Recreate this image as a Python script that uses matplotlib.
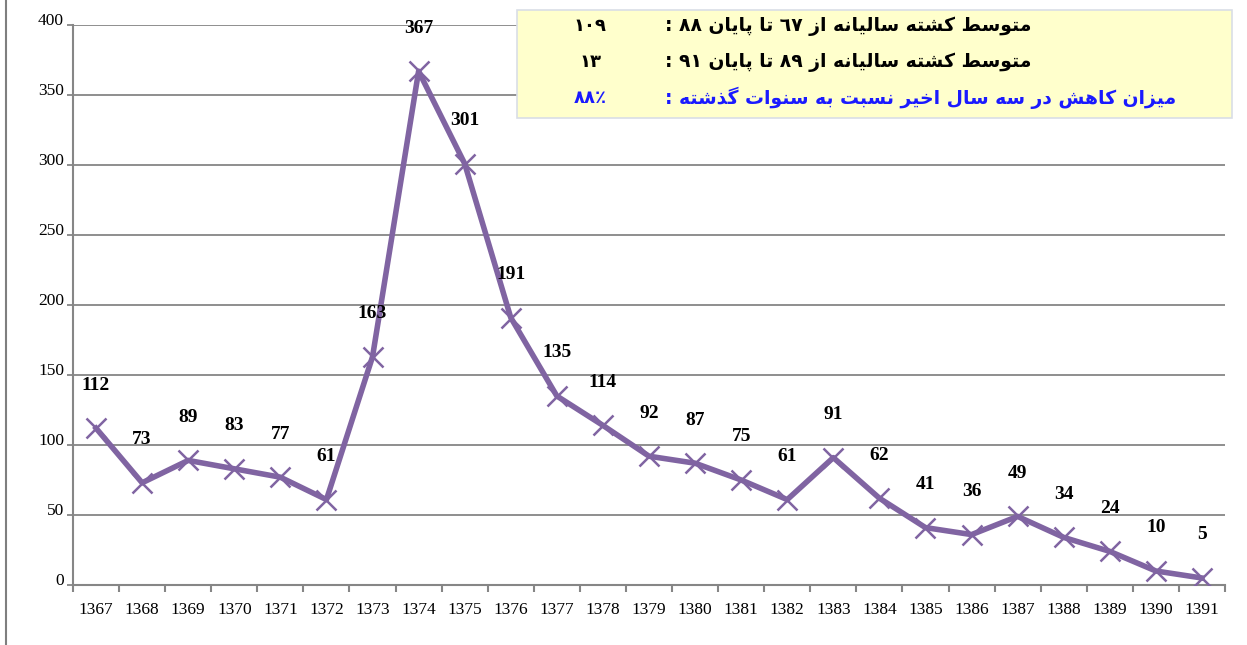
import matplotlib
matplotlib.use('Agg')
import matplotlib.pyplot as plt
from matplotlib.lines import Line2D
from matplotlib.patches import Rectangle
from matplotlib.ticker import FixedLocator

years = [str(y) for y in range(1367, 1392)]
killed = [112, 73, 89, 83, 77, 61, 163, 367, 301, 191, 135, 114, 92, 87, 75, 61,
          91, 62, 41, 36, 49, 34, 24, 10, 5]

note_lines = ['متوسط کشته سالیانه از ٦٧ تا پایان ٨٨ :',
              'متوسط کشته سالیانه از ٨٩ تا پایان ٩١ :',
              'میزان کاهش در سه سال اخیر نسبت به سنوات گذشته :']
note_values = ['١٠٩', '١٣', '٨٨٪']
note_colors = ['black', 'black', '#1a1aff']

# simple arabic shaping (isolated, final, initial, medial)
forms = {
    'ا': (0xFE8D, 0xFE8E, None, None), 'ب': (0xFE8F, 0xFE90, 0xFE91, 0xFE92),
    'پ': (0xFB56, 0xFB57, 0xFB58, 0xFB59), 'ت': (0xFE95, 0xFE96, 0xFE97, 0xFE98),
    'خ': (0xFEA5, 0xFEA6, 0xFEA7, 0xFEA8), 'د': (0xFEA9, 0xFEAA, None, None),
    'ذ': (0xFEAB, 0xFEAC, None, None), 'ر': (0xFEAD, 0xFEAE, None, None),
    'ز': (0xFEAF, 0xFEB0, None, None), 'س': (0xFEB1, 0xFEB2, 0xFEB3, 0xFEB4),
    'ش': (0xFEB5, 0xFEB6, 0xFEB7, 0xFEB8), 'ط': (0xFEC1, 0xFEC2, 0xFEC3, 0xFEC4),
    'ک': (0xFB8E, 0xFB8F, 0xFB90, 0xFB91), 'گ': (0xFB92, 0xFB93, 0xFB94, 0xFB95),
    'ل': (0xFEDD, 0xFEDE, 0xFEDF, 0xFEE0), 'م': (0xFEE1, 0xFEE2, 0xFEE3, 0xFEE4),
    'ن': (0xFEE5, 0xFEE6, 0xFEE7, 0xFEE8), 'و': (0xFEED, 0xFEEE, None, None),
    'ه': (0xFEE9, 0xFEEA, 0xFEEB, 0xFEEC), 'ی': (0xFBFC, 0xFBFD, 0xFBFE, 0xFBFF),
}


def shape_word(w):
    out = []
    for i, c in enumerate(w):
        if c not in forms:
            out.append(c)
            continue
        prev_joins = i > 0 and w[i-1] in forms and forms[w[i-1]][2] is not None
        next_joins = i < len(w) - 1 and w[i+1] in forms and forms[c][2] is not None
        iso, fin, ini, med = forms[c]
        if prev_joins and next_joins:
            out.append(chr(med))
        elif prev_joins:
            out.append(chr(fin))
        elif next_joins:
            out.append(chr(ini))
        else:
            out.append(chr(iso))
    return ''.join(out)


def visual(s):
    words = []
    for w in s.split(' '):
        if any(c in forms for c in w):
            words.append(shape_word(w)[::-1])
        else:
            words.append(w)
    return ' '.join(words[::-1])


fig = plt.figure(figsize=(12.47, 6.45), dpi=100)
ax = fig.add_axes([73/1247, 60/645, (1225-73)/1247, 560/645])

x = list(range(len(years)))
ax.plot(x, killed, color='#8064A2', lw=4, marker='x', ms=14, mew=1.8, zorder=3)
for xi, v in zip(x, killed):
    ax.annotate(str(v), (xi, v), xytext=(0, 31), textcoords='offset points',
                ha='center', va='center', fontsize=14, fontweight='bold',
                family='Liberation Serif')

ax.set_xlim(-0.5, len(years) - 0.5)
ax.set_ylim(0, 400)
ax.set_yticks(range(0, 401, 50))
ax.set_yticklabels([str(v) for v in range(0, 401, 50)], family='Liberation Serif',
                   fontsize=12.5)
for lab in ax.get_yticklabels():
    lab.set_verticalalignment('baseline')
ax.tick_params(axis='y', length=4.5, color='#868686', width=1.3, pad=2)
ax.set_xticks(x)
ax.set_xticklabels(years, family='Liberation Serif', fontsize=12.5)
ax.tick_params(axis='x', which='major', length=0, pad=12)
ax.xaxis.set_minor_locator(FixedLocator([i - 0.5 for i in range(len(years) + 1)]))
ax.tick_params(axis='x', which='minor', length=5, color='#868686', width=1.5)
ax.grid(axis='y', color='#868686', lw=1.3)
ax.set_axisbelow(True)
for s in ['top', 'right']:
    ax.spines[s].set_visible(False)
ax.spines['left'].set_color('#868686')
ax.spines['bottom'].set_color('#868686')
ax.spines['left'].set_linewidth(1.5)
ax.spines['bottom'].set_linewidth(1.5)

fig.add_artist(Line2D([6/1247, 6/1247], [0, 1], color='#7f7f7f', lw=1.5))

# note box
fig.add_artist(Rectangle((517/1247, 1 - 118/645), (1232-517)/1247, (118-10)/645,
                         facecolor='#FFFFCC', edgecolor='#D9DEE6', lw=1.2, zorder=5))
rows_y = [26, 62, 98]
for txt, val, col, yy in zip(note_lines, note_values, note_colors, rows_y):
    fig.text(665/1247, 1 - yy/645, visual(txt), ha='left', va='center',
             fontsize=13.5, fontweight='bold', color=col, family='DejaVu Sans', zorder=6)
    fig.text(590/1247, 1 - yy/645, val, ha='center', va='center',
             fontsize=13, fontweight='bold', color=col, family='DejaVu Sans', zorder=6)

fig.savefig('out.png', dpi=100)
